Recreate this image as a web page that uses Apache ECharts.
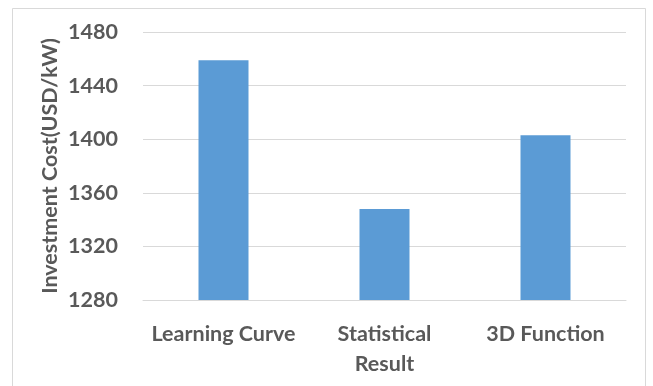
<!DOCTYPE html>
<html>
<head>
<meta charset="utf-8">
<script src="https://cdn.jsdelivr.net/npm/echarts@6/dist/echarts.min.js"></script>
<style>
  html, body { margin: 0; padding: 0; background: #fff; }
  #chart { width: 653px; height: 386px; }
</style>
</head>
<body>
<div id="chart"></div>
<script>
// Investment cost by estimation method
const categories = ['Learning Curve', 'Statistical\nResult', '3D Function'];
const costValues = [1459, 1348, 1403];
const yMin = 1280;
const yMax = 1480;
const yStep = 40;

const textColor = '#595959';
const fontFamily = 'Lato, "Open Sans", sans-serif';

const chart = echarts.init(document.getElementById('chart'), null, { renderer: 'canvas' });
chart.setOption({
  animation: false,
  backgroundColor: '#ffffff',
  graphic: [{
    type: 'rect',
    shape: { x: 12.5, y: 8.5, width: 633, height: 390 },
    style: { fill: 'none', stroke: '#d9d9d9', lineWidth: 1 },
    silent: true
  }],
  grid: { left: 143, right: 27, top: 32, bottom: 86 },
  xAxis: {
    type: 'category',
    data: categories,
    axisLine: { show: true, lineStyle: { color: '#d9d9d9' } },
    axisTick: { show: false },
    axisLabel: {
      color: textColor,
      fontFamily: fontFamily,
      fontWeight: 'bold',
      fontSize: 21.5,
      lineHeight: 30,
      margin: 19,
      interval: 0
    }
  },
  yAxis: {
    type: 'value',
    min: yMin,
    max: yMax,
    interval: yStep,
    name: 'Investment Cost(USD/kW)',
    nameLocation: 'middle',
    nameGap: 82,
    nameMoveOverlap: false,
    nameTextStyle: {
      color: textColor,
      fontFamily: fontFamily,
      fontWeight: 'bold',
      fontSize: 21.5
    },
    axisLine: { show: false },
    axisTick: { show: false },
    axisLabel: {
      color: textColor,
      fontFamily: fontFamily,
      fontWeight: 'bold',
      fontSize: 21.5,
      margin: 25,
      formatter: function (v) { return String(v); }
    },
    splitLine: { lineStyle: { color: '#d9d9d9', width: 1 } }
  },
  series: [{
    type: 'bar',
    data: costValues,
    barWidth: 50,
    itemStyle: { color: '#5b9bd5' }
  }]
});
</script>
</body>
</html>
